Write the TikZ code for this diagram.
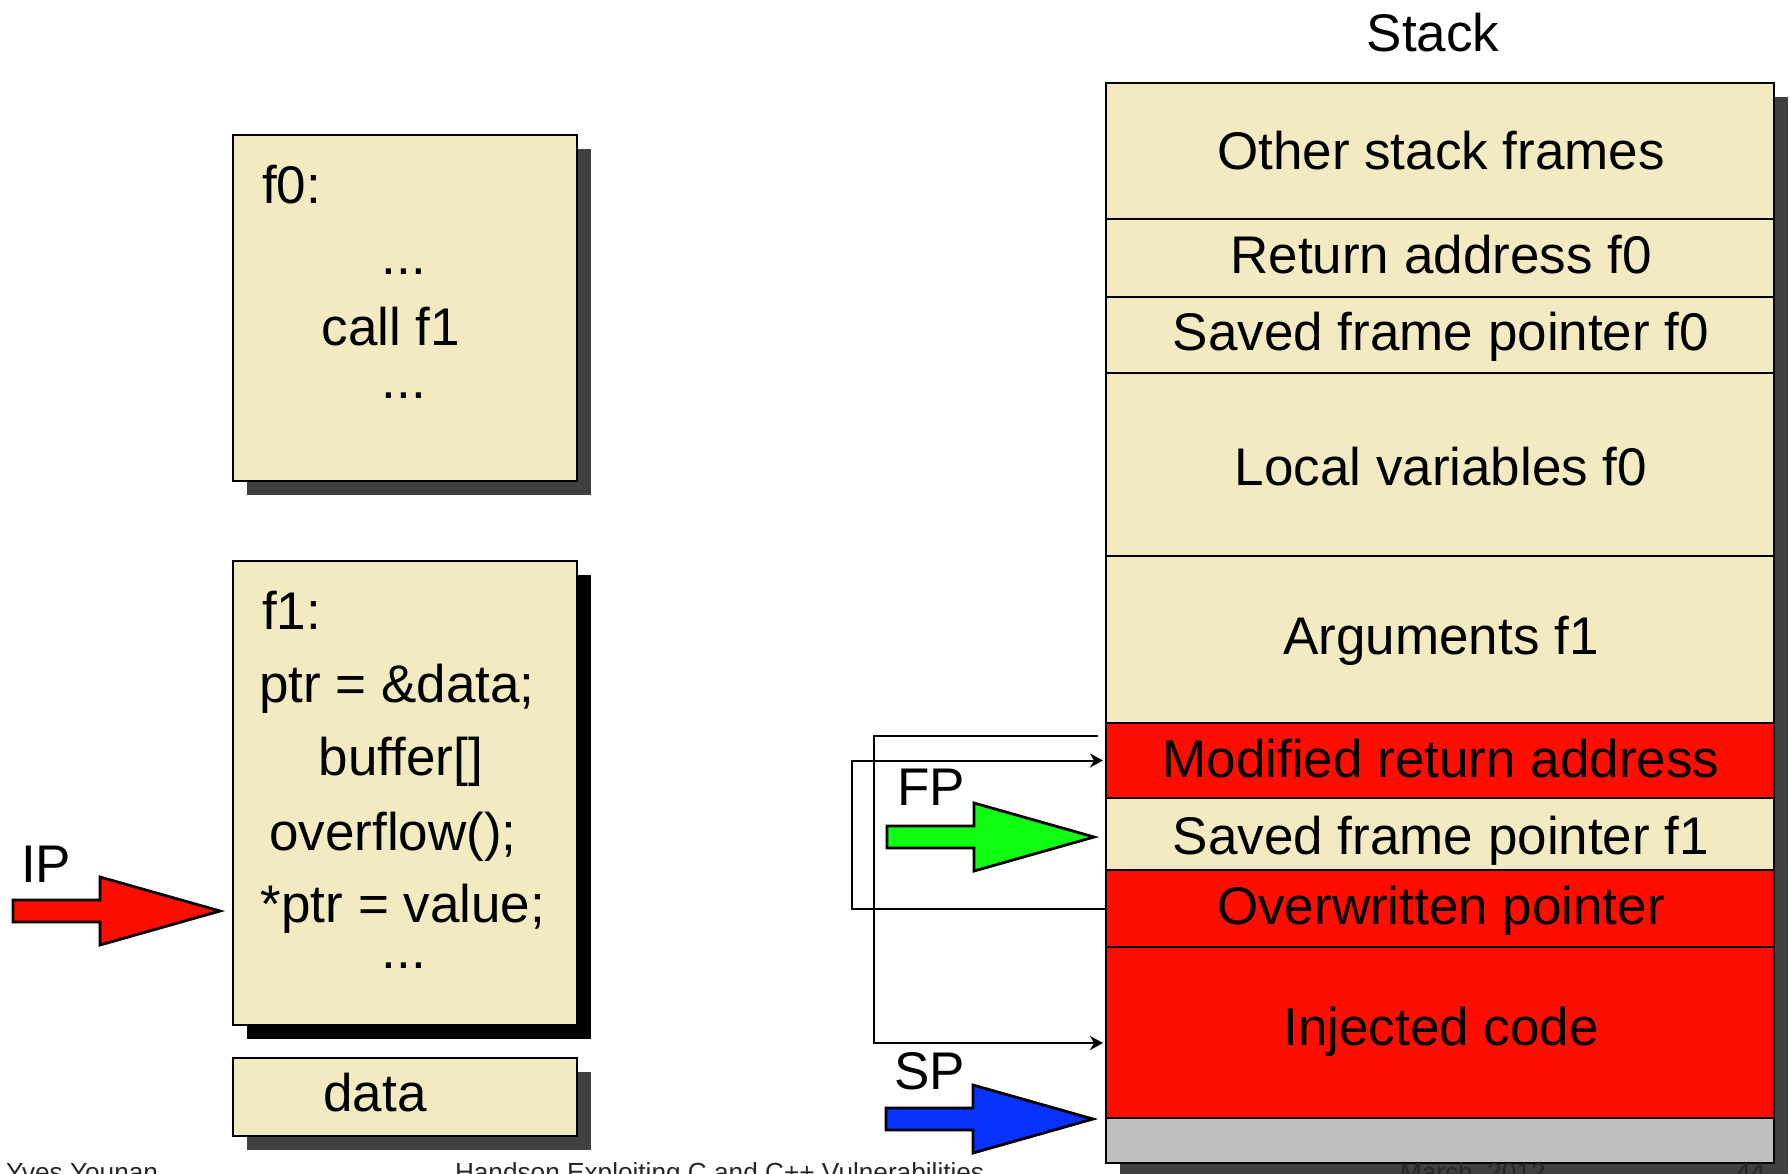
\documentclass[tikz,border=0pt]{standalone}
\usepackage{fontspec}
\setmainfont{Liberation Sans}
\usetikzlibrary{arrows.meta,shadows}

\definecolor{boxfill}{HTML}{F3EAC2}
\definecolor{redfill}{HTML}{FF0D00}
\definecolor{greenfill}{HTML}{10FF10}
\definecolor{bluefill}{HTML}{0A32FF}
\definecolor{greyfill}{HTML}{BFBFBF}
\definecolor{shadowgrey}{HTML}{404040}

\tikzset{
  blockarrow/.pic={
    \draw[line width=1.4pt, fill=#1]
      (0,0) -- (-120,-34) -- (-120,-11) -- (-207,-11)
      -- (-207,11) -- (-120,11) -- (-120,34) -- cycle;
  }
}

\begin{document}
\begin{tikzpicture}[x=0.5pt, y=-0.5pt,
  every node/.style={font=\fontsize{26.5}{30}\selectfont, inner sep=0pt, outer sep=0pt},
  txt/.style={anchor=base},
  txtl/.style={anchor=base west},
  footer/.style={anchor=base west, text=black!85, font=\fontsize{13.1}{15}\selectfont},
  codebox/.style={draw, line width=1.4pt, fill=boxfill, minimum width=172pt,
    drop shadow={shadow xshift=7pt, shadow yshift=-7pt, fill=#1, opacity=1}},
  codebox/.default=shadowgrey,
  stackrow/.style={draw, line width=1.4pt, minimum width=334pt},
  link/.style={line width=1pt},
  tip/.style={-{Stealth[length=6.5pt, width=7pt, inset=2pt]}, shorten >=1.5pt}
]
\useasboundingbox (0,0) rectangle (1791,1173);

% code of f0
\node[codebox, minimum height=173pt] (f0box) at (405,308) {};
\node[txtl] (f0name) at (262,203) {f0:};
\node[txt] (f0dotsa) at (404,274) {...};
\node[txt] (f0call) at (391,345) {call f1};
\node[txt] (f0dotsb) at (404,398) {...};

% code of f1
\node[codebox=black, minimum height=232pt] (f1box) at (405,793) {};
\node[txtl] (f1name) at (262,629) {f1:};
\node[txtl] (f1ptr) at (259,702) {ptr = \&data;};
\node[txt] (f1buf) at (401,775) {buffer[]};
\node[txt] (f1ovf) at (393,850) {overflow();};
\node[txt] (f1deref) at (403,922) {*ptr = value;};
\node[txt] (f1dots) at (404,968) {...};

% data
\node[codebox, minimum height=39pt] (databox) at (405,1097) {};
\node[txt] (datatext) at (375,1111) {data};

% stack
\node[txt] (stacktitle) at (1433,51) {Stack};
\node[stackrow, minimum height=540pt,
  drop shadow={shadow xshift=7pt, shadow yshift=-7pt, fill=shadowgrey, opacity=1}] (stack) at (1440,623) {};
\node[stackrow, fill=boxfill, minimum height=68pt]   (r1)  at (1440,151) {};
\node[stackrow, fill=boxfill, minimum height=39pt]   (r2)  at (1440,258) {};
\node[stackrow, fill=boxfill, minimum height=38pt]   (r3)  at (1440,335) {};
\node[stackrow, fill=boxfill, minimum height=91.5pt] (r4)  at (1440,464.5) {};
\node[stackrow, fill=boxfill, minimum height=83.5pt] (r5)  at (1440,639.5) {};
\node[stackrow, fill=redfill, minimum height=37.5pt] (r6)  at (1440,760.5) {};
\node[stackrow, fill=boxfill, minimum height=36pt]   (r7)  at (1440,834) {};
\node[stackrow, fill=redfill, minimum height=38.5pt] (r8)  at (1440,908.5) {};
\node[stackrow, fill=redfill, minimum height=85.5pt] (r9)  at (1440,1032.5) {};
\node[stackrow, fill=greyfill, minimum height=22.5pt] (r10) at (1440,1140.5) {};

\node[txt] (l1) at (1441,169)  {Other stack frames};
\node[txt] (l2) at (1441,273)  {Return address f0};
\node[txt] (l3) at (1441,350)  {Saved frame pointer f0};
\node[txt] (l4) at (1441,485)  {Local variables f0};
\node[txt] (l5) at (1441,654)  {Arguments f1};
\node[txt] (l6) at (1441,777)  {Modified return address};
\node[txt] (l7) at (1441,854)  {Saved frame pointer f1};
\node[txt] (l8) at (1441,924)  {Overwritten pointer};
\node[txt] (l9) at (1441,1045) {Injected code};

% pointers stored in the overwritten frame
\coordinate (retout) at (1098,736);
\draw[link, tip] (retout) -- ++(-224,0) |- (r9.west |- 0,1043);
\draw[link, tip] (r8.west) -- ++(-254,0) |- (r6.west);

% registers
\node[txtl] (iplabel) at (21,882) {IP};
\pic (iparrow) at (220,911) {blockarrow=redfill};
\node[txtl] (fplabel) at (897,805) {FP};
\pic (fparrow) at (1094,837) {blockarrow=greenfill};
\node[txtl] (splabel) at (894,1089) {SP};
\pic (sparrow) at (1093,1119) {blockarrow=bluefill};

% footline
\node[footer] (author) at (6,1181) {Yves Younan};
\node[footer] (title) at (455,1181) {Handson Exploiting C and C++ Vulnerabilities};
\node[footer] (date) at (1400,1181) {March, 2012};
\node[footer] (page) at (1736,1181) {44};
\end{tikzpicture}
\end{document}
